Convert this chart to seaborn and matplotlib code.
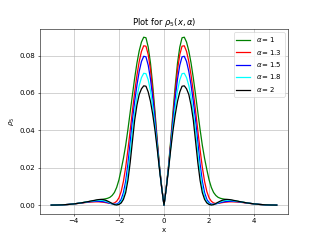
import numpy as np
import seaborn as sns
import matplotlib
matplotlib.use("Agg")
import matplotlib.pyplot as plt

# valores (mitad derecha, la curva es simetrica)
x_half = [0.0, 0.1, 0.2, 0.3, 0.4, 0.5, 0.6, 0.7, 0.8, 0.9,
          1.0, 1.1, 1.2, 1.3, 1.4, 1.5, 1.6, 1.7, 1.8, 1.9,
          2.0, 2.1, 2.2, 2.3, 2.4, 2.5, 2.6, 2.7, 2.8, 2.9,
          3.0, 3.25, 3.5, 3.75, 4.0, 4.25, 4.5, 4.75, 5.0]

rho_a1 = [0.0, 0.0095, 0.021, 0.035, 0.050, 0.064, 0.076, 0.0845, 0.0895, 0.0898,
          0.0872, 0.0825, 0.0760, 0.0680, 0.0590, 0.0497, 0.0405, 0.0320, 0.0250, 0.0190,
          0.0135, 0.0095, 0.0068, 0.0052, 0.0042, 0.0037, 0.0034, 0.0032, 0.0030, 0.0028,
          0.0026, 0.0021, 0.0016, 0.0011, 0.0007, 0.0004, 0.0002, 0.0001, 0.00005]

rho_a13 = [0.0, 0.0093, 0.0205, 0.0335, 0.0475, 0.061, 0.0725, 0.0805, 0.085, 0.0852,
           0.0822, 0.0768, 0.0695, 0.0605, 0.0505, 0.0400, 0.0297, 0.0203, 0.0127, 0.0073,
           0.0039, 0.0021, 0.0012, 0.0009, 0.0010, 0.0012, 0.0014, 0.0016, 0.0017, 0.0018,
           0.0018, 0.0017, 0.0014, 0.0010, 0.0007, 0.0004, 0.0002, 0.0001, 0.00005]

rho_a15 = [0.0, 0.0092, 0.020, 0.0325, 0.0455, 0.0575, 0.0675, 0.0748, 0.0793, 0.0796,
           0.0768, 0.0715, 0.0642, 0.0555, 0.0455, 0.0337, 0.0220, 0.0128, 0.0067, 0.0031,
           0.0013, 0.0006, 0.0005, 0.0007, 0.0010, 0.0014, 0.0017, 0.0019, 0.0020, 0.0021,
           0.0021, 0.0019, 0.0015, 0.0011, 0.0007, 0.0004, 0.0002, 0.0001, 0.00005]

rho_a18 = [0.0, 0.0091, 0.0195, 0.031, 0.0425, 0.0527, 0.0612, 0.0670, 0.0703, 0.0705,
           0.0682, 0.0640, 0.0578, 0.0495, 0.0400, 0.0282, 0.0177, 0.0097, 0.0047, 0.0019,
           0.0007, 0.0003, 0.0004, 0.0008, 0.0013, 0.0018, 0.0022, 0.0025, 0.0026, 0.0026,
           0.0025, 0.0021, 0.0016, 0.0011, 0.0007, 0.0004, 0.0002, 0.0001, 0.00005]

rho_a2 = [0.0, 0.009, 0.019, 0.030, 0.040, 0.0485, 0.0555, 0.0605, 0.0636, 0.0638,
          0.0622, 0.0592, 0.0535, 0.0455, 0.0342, 0.0228, 0.0133, 0.0067, 0.0031, 0.0012,
          0.0004, 0.0001, 0.0003, 0.0009, 0.0016, 0.0022, 0.0027, 0.0030, 0.0031, 0.0030,
          0.0028, 0.0022, 0.0016, 0.0011, 0.0007, 0.0004, 0.0002, 0.0001, 0.00005]

alphas = ['1', '1.3', '1.5', '1.8', '2']
colores = ['green', 'red', 'blue', 'cyan', 'black']
series = [rho_a1, rho_a13, rho_a15, rho_a18, rho_a2]


def espejo(v, signo=1):
    v = np.array(v)
    return np.concatenate([signo * v[::-1], v[1:]])


x = espejo(x_half, -1)

plt.figure(figsize=(6.4, 4.8), dpi=50)
for a, c, rho in zip(alphas, colores, series):
    sns.lineplot(x=x, y=espejo(rho), color=c, linewidth=1.8, label=r'$\alpha = $' + a)

plt.title(r'Plot for $\rho_5(x, \alpha)$')
plt.xlabel('x')
plt.ylabel(r'$\rho_5$')
plt.grid(True)
plt.legend(loc='upper right')
plt.savefig('out.png', dpi=50)
